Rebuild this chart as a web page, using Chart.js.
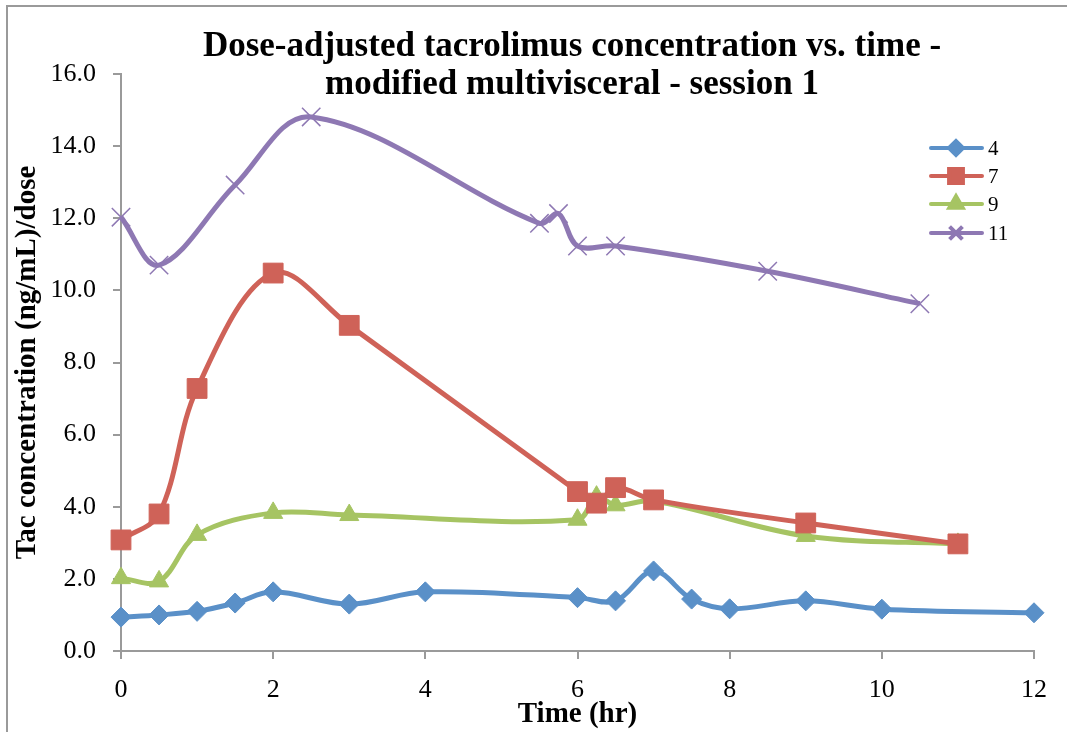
<!DOCTYPE html>
<html>
<head>
<meta charset="utf-8">
<script src="https://cdn.jsdelivr.net/npm/chart.js@4/dist/chart.umd.min.js"></script>
<style>
  html, body { margin: 0; padding: 0; background: #fff; }
  #wrap { width: 1067px; height: 732px; position: relative; }
</style>
</head>
<body>
<div id="wrap"><canvas id="chartTac"></canvas></div>
<script>
// 資料
const seriesNames = ['4', '7', '9', '11'];

const hours4 = [0, 0.5, 1, 1.5, 2, 3, 4, 6, 6.5, 7, 7.5, 8, 9, 10, 12];
const conc4 = [0.94, 1.0, 1.1, 1.33, 1.64, 1.3, 1.64, 1.48, 1.39, 2.22, 1.44, 1.17, 1.39, 1.16, 1.06];

const hours7 = [0, 0.5, 1, 2, 3, 6, 6.25, 6.5, 7, 9, 11];
const conc7 = [3.08, 3.8, 7.28, 10.48, 9.03, 4.42, 4.1, 4.53, 4.19, 3.55, 2.97];

const hours9 = [0, 0.5, 1, 2, 3, 6, 6.25, 6.5, 7, 9, 11];
const conc9 = [2.02, 1.93, 3.22, 3.83, 3.77, 3.64, 4.28, 4.04, 4.16, 3.19, 2.97];

const hours11 = [0, 0.5, 1.5, 2.5, 5.5, 5.75, 6, 6.5, 8.5, 10.5];
const conc11 = [12.03, 10.7, 12.92, 14.81, 11.86, 12.13, 11.23, 11.23, 10.53, 9.63];

const xTicks = [0, 2, 4, 6, 8, 10, 12];
const yTicks = [0, 2, 4, 6, 8, 10, 12, 14, 16];

const titleLines = ['Dose-adjusted tacrolimus concentration vs. time -', 'modified multivisceral - session 1'];
const xTitle = 'Time (hr)';
const yTitle = 'Tac concentration (ng/mL)/dose';

const SERIF = '"Liberation Serif", "DejaVu Serif", serif';
const AXIS_GRAY = '#9a9a9a';

function toPoints(xs, ys) {
  return xs.map((x, i) => ({ x, y: ys[i] }));
}

function makeSet(label, xs, ys, color, style, radius, pointBorder) {
  return {
    label,
    data: toPoints(xs, ys),
    borderColor: color,
    backgroundColor: color,
    borderWidth: 5,
    tension: 0.35,
    clip: false,
    pointStyle: style,
    pointRadius: radius,
    pointHoverRadius: radius,
    pointBackgroundColor: color,
    pointBorderColor: color,
    pointBorderWidth: pointBorder,
  };
}

const datasets = [
  makeSet(seriesNames[0], hours4, conc4, '#5A90C8', 'rectRot', 10, 1),
  makeSet(seriesNames[1], hours7, conc7, '#CF6258', 'rect', 14, 1),
  makeSet(seriesNames[2], hours9, conc9, '#A6C463', 'triangle', 11, 1),
  makeSet(seriesNames[3], hours11, conc11, '#8E78B3', 'crossRot', 13, 1.5),
];

// 外框 + 標題 + 圖例
const decorPlugin = {
  id: 'decor',
  beforeDraw(chart) {
    const ctx = chart.ctx;
    ctx.save();
    ctx.fillStyle = '#fff';
    ctx.fillRect(0, 0, chart.width, chart.height);
    ctx.strokeStyle = AXIS_GRAY;
    ctx.lineWidth = 2;
    ctx.strokeRect(7, 6, chart.width + 20, chart.height + 20);
    ctx.restore();
  },
  afterDraw(chart) {
    const ctx = chart.ctx;
    ctx.save();
    // 標題
    ctx.fillStyle = '#000';
    ctx.font = 'bold 35px ' + SERIF;
    ctx.textAlign = 'center';
    ctx.textBaseline = 'middle';
    ctx.fillText(titleLines[0], 572, 47);
    ctx.fillText(titleLines[1], 572, 85);

    // 圖例
    const rowY = [148, 176, 204, 233];
    chart.data.datasets.forEach((ds, i) => {
      const y = rowY[i];
      ctx.strokeStyle = ds.borderColor;
      ctx.fillStyle = ds.borderColor;
      ctx.lineWidth = 4;
      ctx.lineCap = 'round';
      ctx.beginPath();
      ctx.moveTo(931, y);
      ctx.lineTo(982, y);
      ctx.stroke();
      ctx.lineCap = 'butt';
      Chart.helpers.drawPoint(ctx, {
        pointStyle: ds.pointStyle,
        radius: ds.pointRadius * 0.7,
        borderWidth: ds.pointBorderWidth,
        rotation: 0,
      }, 956, y);
      ctx.fillStyle = '#000';
      ctx.font = '21px ' + SERIF;
      ctx.textAlign = 'left';
      ctx.textBaseline = 'middle';
      ctx.fillText(ds.label, 988, y + 1);
    });
    ctx.restore();
  },
};

new Chart(document.getElementById('chartTac'), {
  type: 'line',
  data: { datasets },
  options: {
    responsive: true,
    maintainAspectRatio: false,
    animation: false,
    layout: { padding: { left: 0, right: 33, top: 74, bottom: 0 } },
    plugins: {
      legend: { display: false },
      title: { display: false },
      tooltip: { enabled: false },
    },
    scales: {
      x: {
        type: 'linear',
        min: 0,
        max: 12,
        afterFit(scale) { scale.height = 81; },
        afterBuildTicks(scale) { scale.ticks = xTicks.map(v => ({ value: v })); },
        ticks: {
          color: '#000',
          font: { family: SERIF, size: 26 },
          padding: 16,
          maxRotation: 0,
          callback: v => String(v),
        },
        grid: { drawOnChartArea: false, drawTicks: true, tickLength: 8, color: AXIS_GRAY, lineWidth: 2 },
        border: { color: AXIS_GRAY, width: 2 },
        title: {
          display: true,
          text: xTitle,
          color: '#000',
          font: { family: SERIF, size: 29, weight: 'bold' },
          padding: { top: 0, bottom: 0 },
        },
      },
      y: {
        type: 'linear',
        min: 0,
        max: 16,
        afterFit(scale) { scale.width = 121; },
        afterBuildTicks(scale) { scale.ticks = yTicks.map(v => ({ value: v })); },
        ticks: {
          color: '#000',
          font: { family: SERIF, size: 26 },
          padding: 17,
          callback: v => v.toFixed(1),
        },
        grid: { drawOnChartArea: false, drawTicks: true, tickLength: 8, color: AXIS_GRAY, lineWidth: 2 },
        border: { color: AXIS_GRAY, width: 2 },
        title: {
          display: true,
          text: yTitle,
          color: '#000',
          font: { family: SERIF, size: 29, weight: 'bold' },
          padding: { top: 10, bottom: 0 },
        },
      },
    },
  },
  plugins: [decorPlugin],
});
</script>
</body>
</html>
